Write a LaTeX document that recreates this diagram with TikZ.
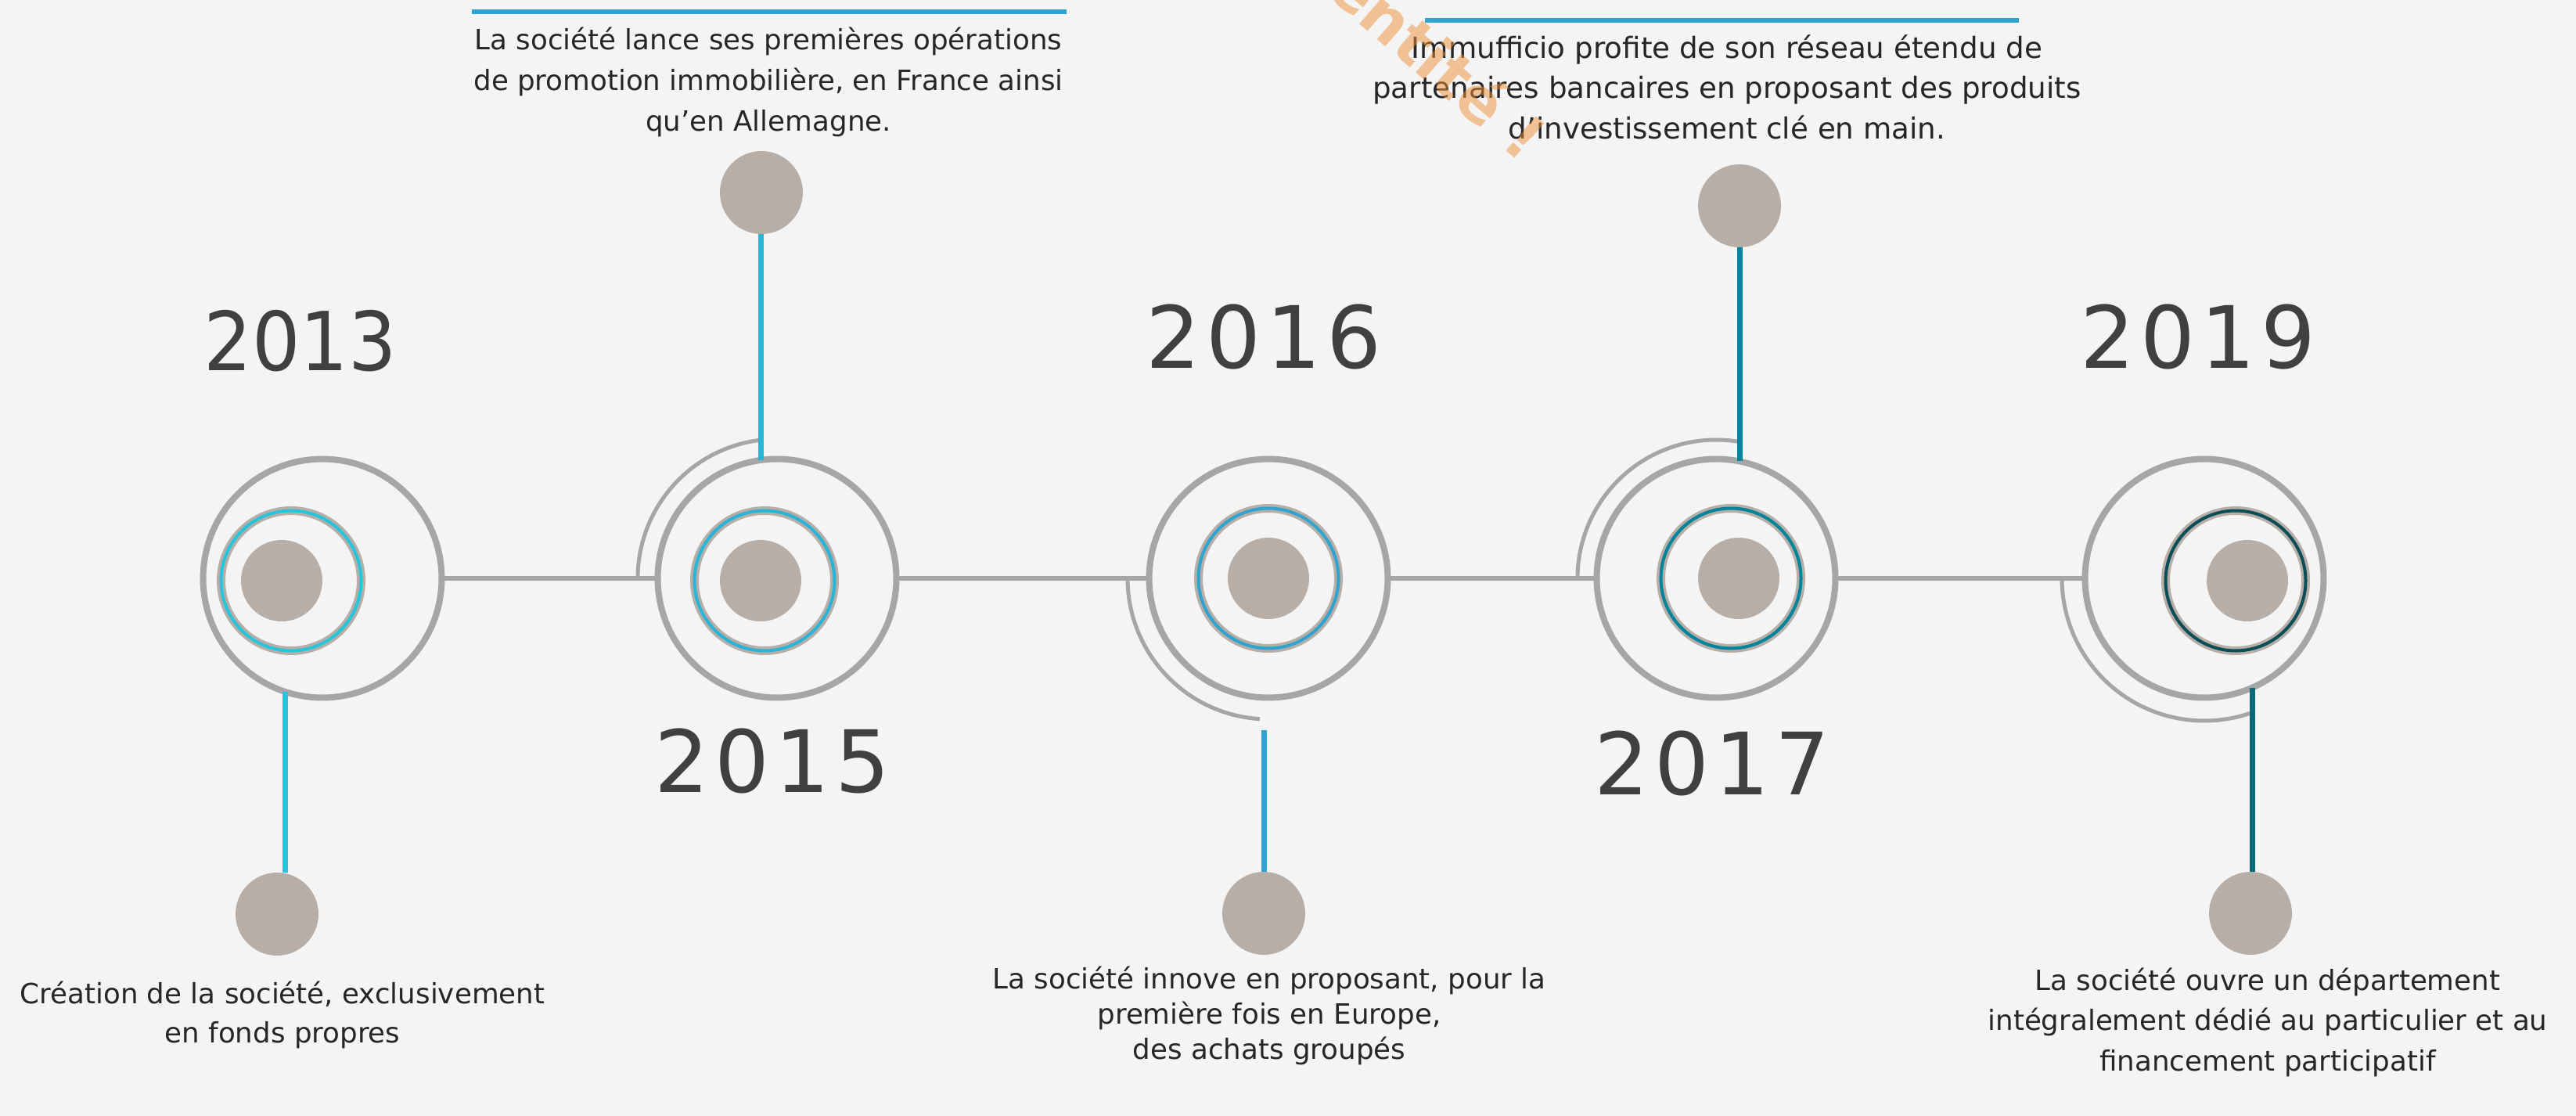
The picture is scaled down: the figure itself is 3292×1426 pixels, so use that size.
\documentclass[tikz,border=0pt]{standalone}
\usepackage{graphicx}
\usepackage{fontspec}
\setmainfont{DejaVu Sans}
\newfontfamily\yearfont[LetterSpace=6.4]{DejaVu Sans}
\definecolor{bg}{HTML}{F4F4F4}
\definecolor{lgray}{HTML}{A6A6A6}
\definecolor{taupe}{HTML}{B7AEA7}
\definecolor{txtc}{HTML}{262626}
\definecolor{yrc}{HTML}{404040}
\definecolor{bar}{HTML}{2FA2CD}
\definecolor{colA}{HTML}{27C5DB}
\definecolor{colB}{HTML}{2AB4D7}
\definecolor{colC}{HTML}{31A3CF}
\definecolor{colD}{HTML}{00849C}
\definecolor{colE}{HTML}{0B4E58}
\definecolor{colEc}{HTML}{0A6A78}
\definecolor{wmc}{HTML}{EC9038}
\tikzset{
  outer/.style={circle, draw=lgray, line width=4.55pt, minimum size=6.1cm, inner sep=0pt},
  disc/.style={circle, fill=taupe, minimum size=2.08cm, inner sep=0pt},
  sdisc/.style={circle, fill=taupe, minimum size=2.12cm, inner sep=0pt},
  tline/.style={draw=lgray, line width=3.13pt},
  thinarc/.style={draw=lgray, line width=2.85pt},
  conn/.style={line width=3.98pt},
  ringbase/.style={draw=taupe, line width=6.26pt},
  ringcol/.style={line width=2.28pt},
  topbar/.style={draw=bar, line width=3.41pt},
  txt/.style={text=txtc, align=center, inner sep=0pt},
  yr/.style={text=yrc, inner sep=0pt},
  wm/.style={text=wmc, text opacity=0.5, inner sep=0pt, font=\fontsize{45.5}{50}\selectfont\bfseries}
}
\begin{document}
\begin{tikzpicture}[x=0.02cm, y=-0.02cm]
\clip (0,0) rectangle (3292,1426);
\fill[bg] (0,0) rectangle (3292,1426);

% outer circles
\node[outer] (c13) at (412,739) {};
\node[outer] (c15) at (993,739) {};
\node[outer] (c16) at (1621,739) {};
\node[outer] (c17) at (2193,739) {};
\node[outer] (c19) at (2817,739) {};

% timeline
\draw[tline] (c13) -- (c15);
\draw[tline] (c15) -- (c16);
\draw[tline] (c16) -- (c17);
\draw[tline] (c17) -- (c19);

% thin arcs
\draw[thinarc] (c15.center) ++(180:178) arc[start angle=180, end angle=263, radius=178];
\draw[thinarc] (c16.center) ++(180:180) arc[start angle=180, end angle=93.5, radius=180];
\draw[thinarc] (c17.center) ++(180:177) arc[start angle=180, end angle=280, radius=177];
\draw[thinarc] (c19.center) ++(180:182) arc[start angle=180, end angle=71.4, radius=182];

% inner rings
\draw[ringbase] (372,742) circle[radius=89.5];
\draw[ringcol, colA] (372,742) circle[radius=89.5];
\draw[ringbase] (977,742) circle[radius=89.5];
\draw[ringcol, colB] (977,742) circle[radius=89.5];
\draw[ringbase] (1621,739) circle[radius=89.5];
\draw[ringcol, colC] (1621,739) circle[radius=89.5];
\draw[ringbase] (2212,739) circle[radius=89.5];
\draw[ringcol, colD] (2212,739) circle[radius=89.5];
\draw[ringbase] (2857,742) circle[radius=89.5];
\draw[ringcol, colE] (2857,742) circle[radius=89.5];

% central discs
\node[disc] (m13) at (360,742) {};
\node[disc] (m15) at (972,742) {};
\node[disc] (m16) at (1621,739) {};
\node[disc] (m17) at (2222,739) {};
\node[disc] (m19) at (2872,742) {};

% small discs
\node[sdisc] (d13) at (354,1168) {};
\node[sdisc] (d15) at (973,246) {};
\node[sdisc] (d16) at (1615,1167) {};
\node[sdisc] (d17) at (2223,263) {};
\node[sdisc] (d19) at (2876,1167) {};

% connectors
\coordinate (k13) at (364,884);
\coordinate (k15) at (972,588);
\coordinate (k16) at (1615,933);
\coordinate (k17) at (2223,589);
\coordinate (k19) at (2878,879);
\draw[conn, colA] (k13) -- (k13 |- d13.north);
\draw[conn, colB] (k15) -- (k15 |- d15.south);
\draw[conn, colC] (k16) -- (k16 |- d16.north);
\draw[conn, colD] (k17) -- (k17 |- d17.south);
\draw[conn, colEc] (k19) -- (k19 |- d19.north);

% top bars
\draw[topbar] (603,15) -- (1363,15);
\draw[topbar] (1821,26) -- (2580,26);

% years
\node[yr, anchor=base, font=\fontsize{59.2}{60}\selectfont] (y13) at (384,473) {\scalebox{0.93}[1]{2013}};
\node[yr, anchor=base, font=\yearfont\fontsize{62.6}{63}\selectfont] (y15) at (987,1012) {2015};
\node[yr, anchor=base, font=\yearfont\fontsize{62.6}{63}\selectfont] (y16) at (1615,470) {2016};
\node[yr, anchor=base, font=\yearfont\fontsize{62.6}{63}\selectfont] (y17) at (2188,1015) {2017};
\node[yr, anchor=base, font=\yearfont\fontsize{62.6}{63}\selectfont] (y19) at (2809,470) {2019};

% texts (anchor = baseline of last line)
\node[txt, anchor=base, font=\fontsize{20.3}{29.5}\selectfont] (t15) at (982,167)
  {La société lance ses premières opérations\\de promotion immobilière, en France ainsi\\qu’en Allemagne.};
\node[txt, anchor=base, font=\fontsize{21.2}{29.2}\selectfont] (t17) at (2207,177)
  {Immufficio profite de son réseau étendu de\\partenaires bancaires en proposant des produits\\d’investissement clé en main.};
\node[txt, anchor=base, font=\fontsize{20.3}{28.4}\selectfont] (t13) at (361,1332)
  {Création de la société, exclusivement\\en fonds propres};
\node[txt, anchor=base, font=\fontsize{20.3}{25.6}\selectfont] (t16) at (1622,1353)
  {La société innove en proposant, pour la\\première fois en Europe,\\des achats groupés};
\node[txt, anchor=base, font=\fontsize{20.3}{29.2}\selectfont] (t19) at (2898,1368)
  {La société ouvre un département\\intégralement dédié au particulier et au\\financement participatif};

% watermark
\node[wm, rotate=-41, anchor=base east] (wm) at (1944,210) {entité !};
\end{tikzpicture}
\end{document}
